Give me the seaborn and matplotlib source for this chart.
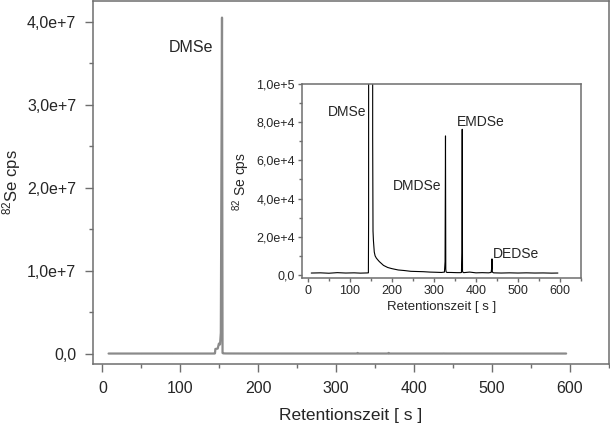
import numpy as np
import pandas as pd
import matplotlib
matplotlib.use("Agg")
import matplotlib.pyplot as plt
import seaborn as sns
from matplotlib.ticker import MultipleLocator, FuncFormatter

# chromatogram (time in s, 82Se counts per second)
time_s = [8, 30, 50, 70, 90, 110, 125, 140, 144, 144.5, 145, 148, 149.5, 151, 152,
          153.5, 154.2, 155, 156, 158, 160, 163, 166, 170, 175, 180, 190, 200, 215,
          230, 245, 260, 275, 290, 305, 318, 325, 326.5, 327.5, 328.2, 329, 331, 340,
          355, 363, 365.5, 366.5, 367.3, 368, 369, 371, 385, 400, 415, 430, 436,
          437.5, 438.2, 439, 442, 460, 480, 500, 520, 540, 560, 580, 595]
cps = [1000, 1100, 900, 1200, 1000, 1100, 950, 1050, 1100, 29000, 550000, 600000,
       1200000, 1100000, 2500000, 40500000, 72000, 23000, 18000, 12000, 10000, 8800,
       8000, 7000, 6000, 5000, 3900, 3300, 2600, 2300, 1900, 1800, 1700, 1500, 1400,
       1300, 1500, 7000, 72800, 3000, 1600, 1300, 1300, 1200, 1200, 1300, 11500,
       76300, 2000, 1400, 1200, 1500, 1100, 1200, 1100, 1300, 3500, 8400, 1500, 1100,
       1000, 1100, 1000, 1100, 1000, 1050, 950, 1000]

main_label = "DMSe"
inset_labels = ["DMSe", "DMDSe", "EMDSe", "DEDSe"]

df = pd.DataFrame({"t": time_s, "cps": cps})

sns.set_style("ticks")
plt.rcParams['font.family'] = ['Liberation Sans', 'DejaVu Sans']
plt.rcParams['mathtext.default'] = 'regular'

spine_col = "#6e6e6e"


def sci_comma(v, pos):
    if abs(v) < 1e-9:
        return "0,0"
    e = int(np.floor(np.log10(abs(v)) + 1e-9))
    m = v / 10 ** e
    return f"{m:.1f}e+{e}".replace(".", ",")


def style_axes(ax, major_len, minor_len, size, pad):
    for s in ax.spines.values():
        s.set_visible(True)
        s.set_color(spine_col)
        s.set_linewidth(1.1)
    ax.tick_params(which="major", direction="out", length=major_len, width=1,
                   color=spine_col, labelsize=size, pad=pad)
    ax.tick_params(which="minor", direction="out", length=minor_len, width=1,
                   color=spine_col)
    ax.tick_params(top=False, right=False, which="both")
    ax.yaxis.set_major_formatter(FuncFormatter(sci_comma))


fig = plt.figure(figsize=(6.1, 4.26), dpi=100)

# main chromatogram
ax = fig.add_axes([93 / 610, 62 / 426, 516 / 610, 363 / 426])
sns.lineplot(data=df, x="t", y="cps", ax=ax, color="#8a8a8a", linewidth=1.6,
             estimator=None, sort=False)
ax.set_xlim(-12, 650)
ax.set_ylim(-1.26e6, 4.25e7)
ax.xaxis.set_major_locator(MultipleLocator(100))
ax.xaxis.set_minor_locator(MultipleLocator(50))
ax.yaxis.set_major_locator(MultipleLocator(1e7))
ax.yaxis.set_minor_locator(MultipleLocator(5e6))
style_axes(ax, 6, 3, 11.5, 6)
ax.set_xlabel("Retentionszeit [ s ]", fontsize=12.5, labelpad=9)
ax.set_ylabel(r"$^{82}$Se cps", fontsize=12, labelpad=3)
ax.text(142, 3.69e7, main_label, fontsize=11.5, ha="right", va="center")

# inset zoom on the small peaks
axi = fig.add_axes([302 / 610, 148 / 426, 279 / 610, 194 / 426])
sns.lineplot(data=df, x="t", y="cps", ax=axi, color="black", linewidth=0.8,
             estimator=None, sort=False)
axi.set_xlim(-14, 650)
axi.set_ylim(-1600, 1e5)
axi.xaxis.set_major_locator(MultipleLocator(100))
axi.xaxis.set_minor_locator(MultipleLocator(50))
axi.yaxis.set_major_locator(MultipleLocator(2e4))
axi.yaxis.set_minor_locator(MultipleLocator(1e4))
style_axes(axi, 3, 2, 9, 2)
axi.set_xlabel("Retentionszeit [ s ]", fontsize=9.5, labelpad=3)
axi.set_ylabel(r"$^{82}$ Se cps", fontsize=10, labelpad=3)

axi.text(140, 8.55e4, inset_labels[0], fontsize=10, ha="right", va="center")
axi.text(318, 4.66e4, inset_labels[1], fontsize=10, ha="right", va="center")
axi.text(354, 8.0e4, inset_labels[2], fontsize=10, ha="left", va="center")
axi.text(441, 1.08e4, inset_labels[3], fontsize=10, ha="left", va="center")

fig.savefig("out.png", dpi=100)
